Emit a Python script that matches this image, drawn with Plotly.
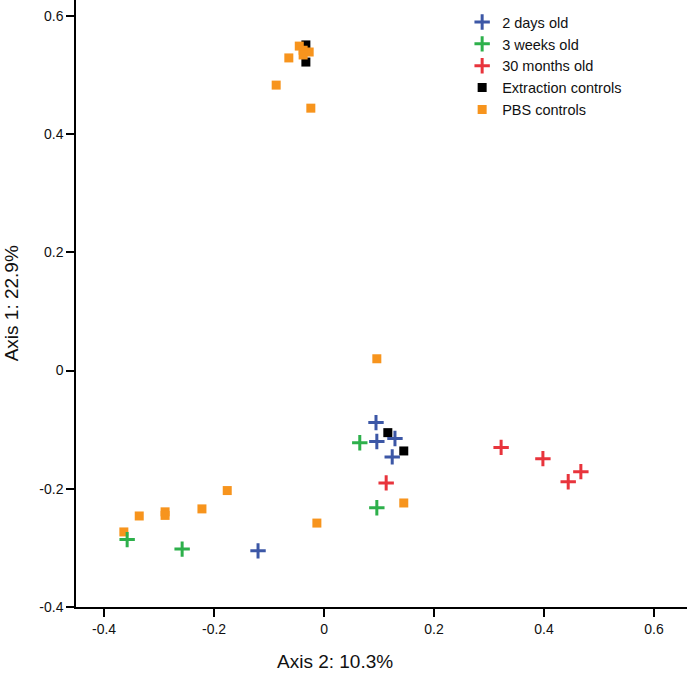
import plotly.graph_objects as go

# PCoA coordinates (Axis 2 on x, Axis 1 on y)
days2_x = [0.0945, 0.096, 0.129, 0.124, -0.12]
days2_y = [-0.088, -0.120, -0.115, -0.146, -0.305]

weeks3_x = [0.065, 0.096, -0.358, -0.258]
weeks3_y = [-0.122, -0.232, -0.286, -0.302]

months30_x = [0.113, 0.322, 0.398, 0.467, 0.444]
months30_y = [-0.190, -0.130, -0.149, -0.171, -0.188]

extraction_x = [-0.033, -0.033, 0.116, 0.145]
extraction_y = [0.551, 0.522, -0.105, -0.136]

pbs_x = [-0.045, -0.038, -0.027, -0.038, -0.064, -0.087, -0.024,
         0.096, 0.145, -0.013, -0.364, -0.336, -0.289, -0.289, -0.222, -0.176]
pbs_y = [0.549, 0.542, 0.539, 0.534, 0.529, 0.483, 0.444,
         0.020, -0.224, -0.258, -0.273, -0.246, -0.239, -0.245, -0.234, -0.203]

font = "Liberation Sans, Arial, sans-serif"

fig = go.Figure()

def cross(x, y, name, color, rank):
    fig.add_trace(go.Scatter(x=x, y=y, mode="markers", name=name, legendrank=rank,
                             marker=dict(symbol="cross-thin", size=11,
                                         line=dict(color=color, width=3))))

def square(x, y, name, color, rank):
    fig.add_trace(go.Scatter(x=x, y=y, mode="markers", name=name, legendrank=rank,
                             marker=dict(symbol="square", size=9, color=color,
                                         line=dict(width=0))))

square(extraction_x, extraction_y, "Extraction controls", "#000000", 4)
square(pbs_x, pbs_y, "PBS controls", "#F7941D", 5)
cross(days2_x, days2_y, "2 days old", "#3C57A6", 1)
cross(weeks3_x, weeks3_y, "3 weeks old", "#2DB04B", 2)
cross(months30_x, months30_y, "30 months old", "#E8343C", 3)

ticks = [-0.4, -0.2, 0, 0.2, 0.4, 0.6]
tick_text = ["-0.4", "-0.2", "0", "0.2", "0.4", "0.6"]

fig.update_layout(
    width=687, height=673,
    margin=dict(l=76, r=0, t=0, b=66),
    plot_bgcolor="white", paper_bgcolor="white",
    font=dict(family=font, size=14, color="#111111"),
    showlegend=True,
    legend=dict(x=0.632, y=0.99, xanchor="left", yanchor="top",
                font=dict(size=14.5, family=font), bgcolor="rgba(0,0,0,0)",
                itemwidth=30, tracegroupgap=0),
    xaxis=dict(range=[-0.451, 0.66], tickvals=ticks, ticktext=tick_text,
               showgrid=False, zeroline=False, showline=True, linecolor="black",
               linewidth=1.5, ticks="outside", ticklen=8, tickcolor="black",
               tickwidth=1.5, tickfont=dict(size=14)),
    yaxis=dict(range=[-0.4, 0.627], tickvals=ticks, ticktext=tick_text,
               showgrid=False, zeroline=False, showline=True, linecolor="black",
               linewidth=1.5, ticks="outside", ticklen=8, tickcolor="black",
               tickwidth=1.5, tickfont=dict(size=14)),
    annotations=[
        dict(text="Axis 2: 10.3%", xref="paper", yref="paper",
             x=(335 - 76) / 611, y=-0.09, xanchor="center", yanchor="middle",
             showarrow=False, font=dict(size=19)),
        dict(text="Axis 1: 22.9%", xref="paper", yref="paper",
             x=-0.105, y=0.5, textangle=-90, xanchor="center", yanchor="middle",
             showarrow=False, font=dict(size=19)),
    ],
)

# the page body has a default 8px margin; drop it so the figure fills the window
fig.write_html("out.html", config={"displayModeBar": False},
               post_script="document.body.style.margin='0';")
